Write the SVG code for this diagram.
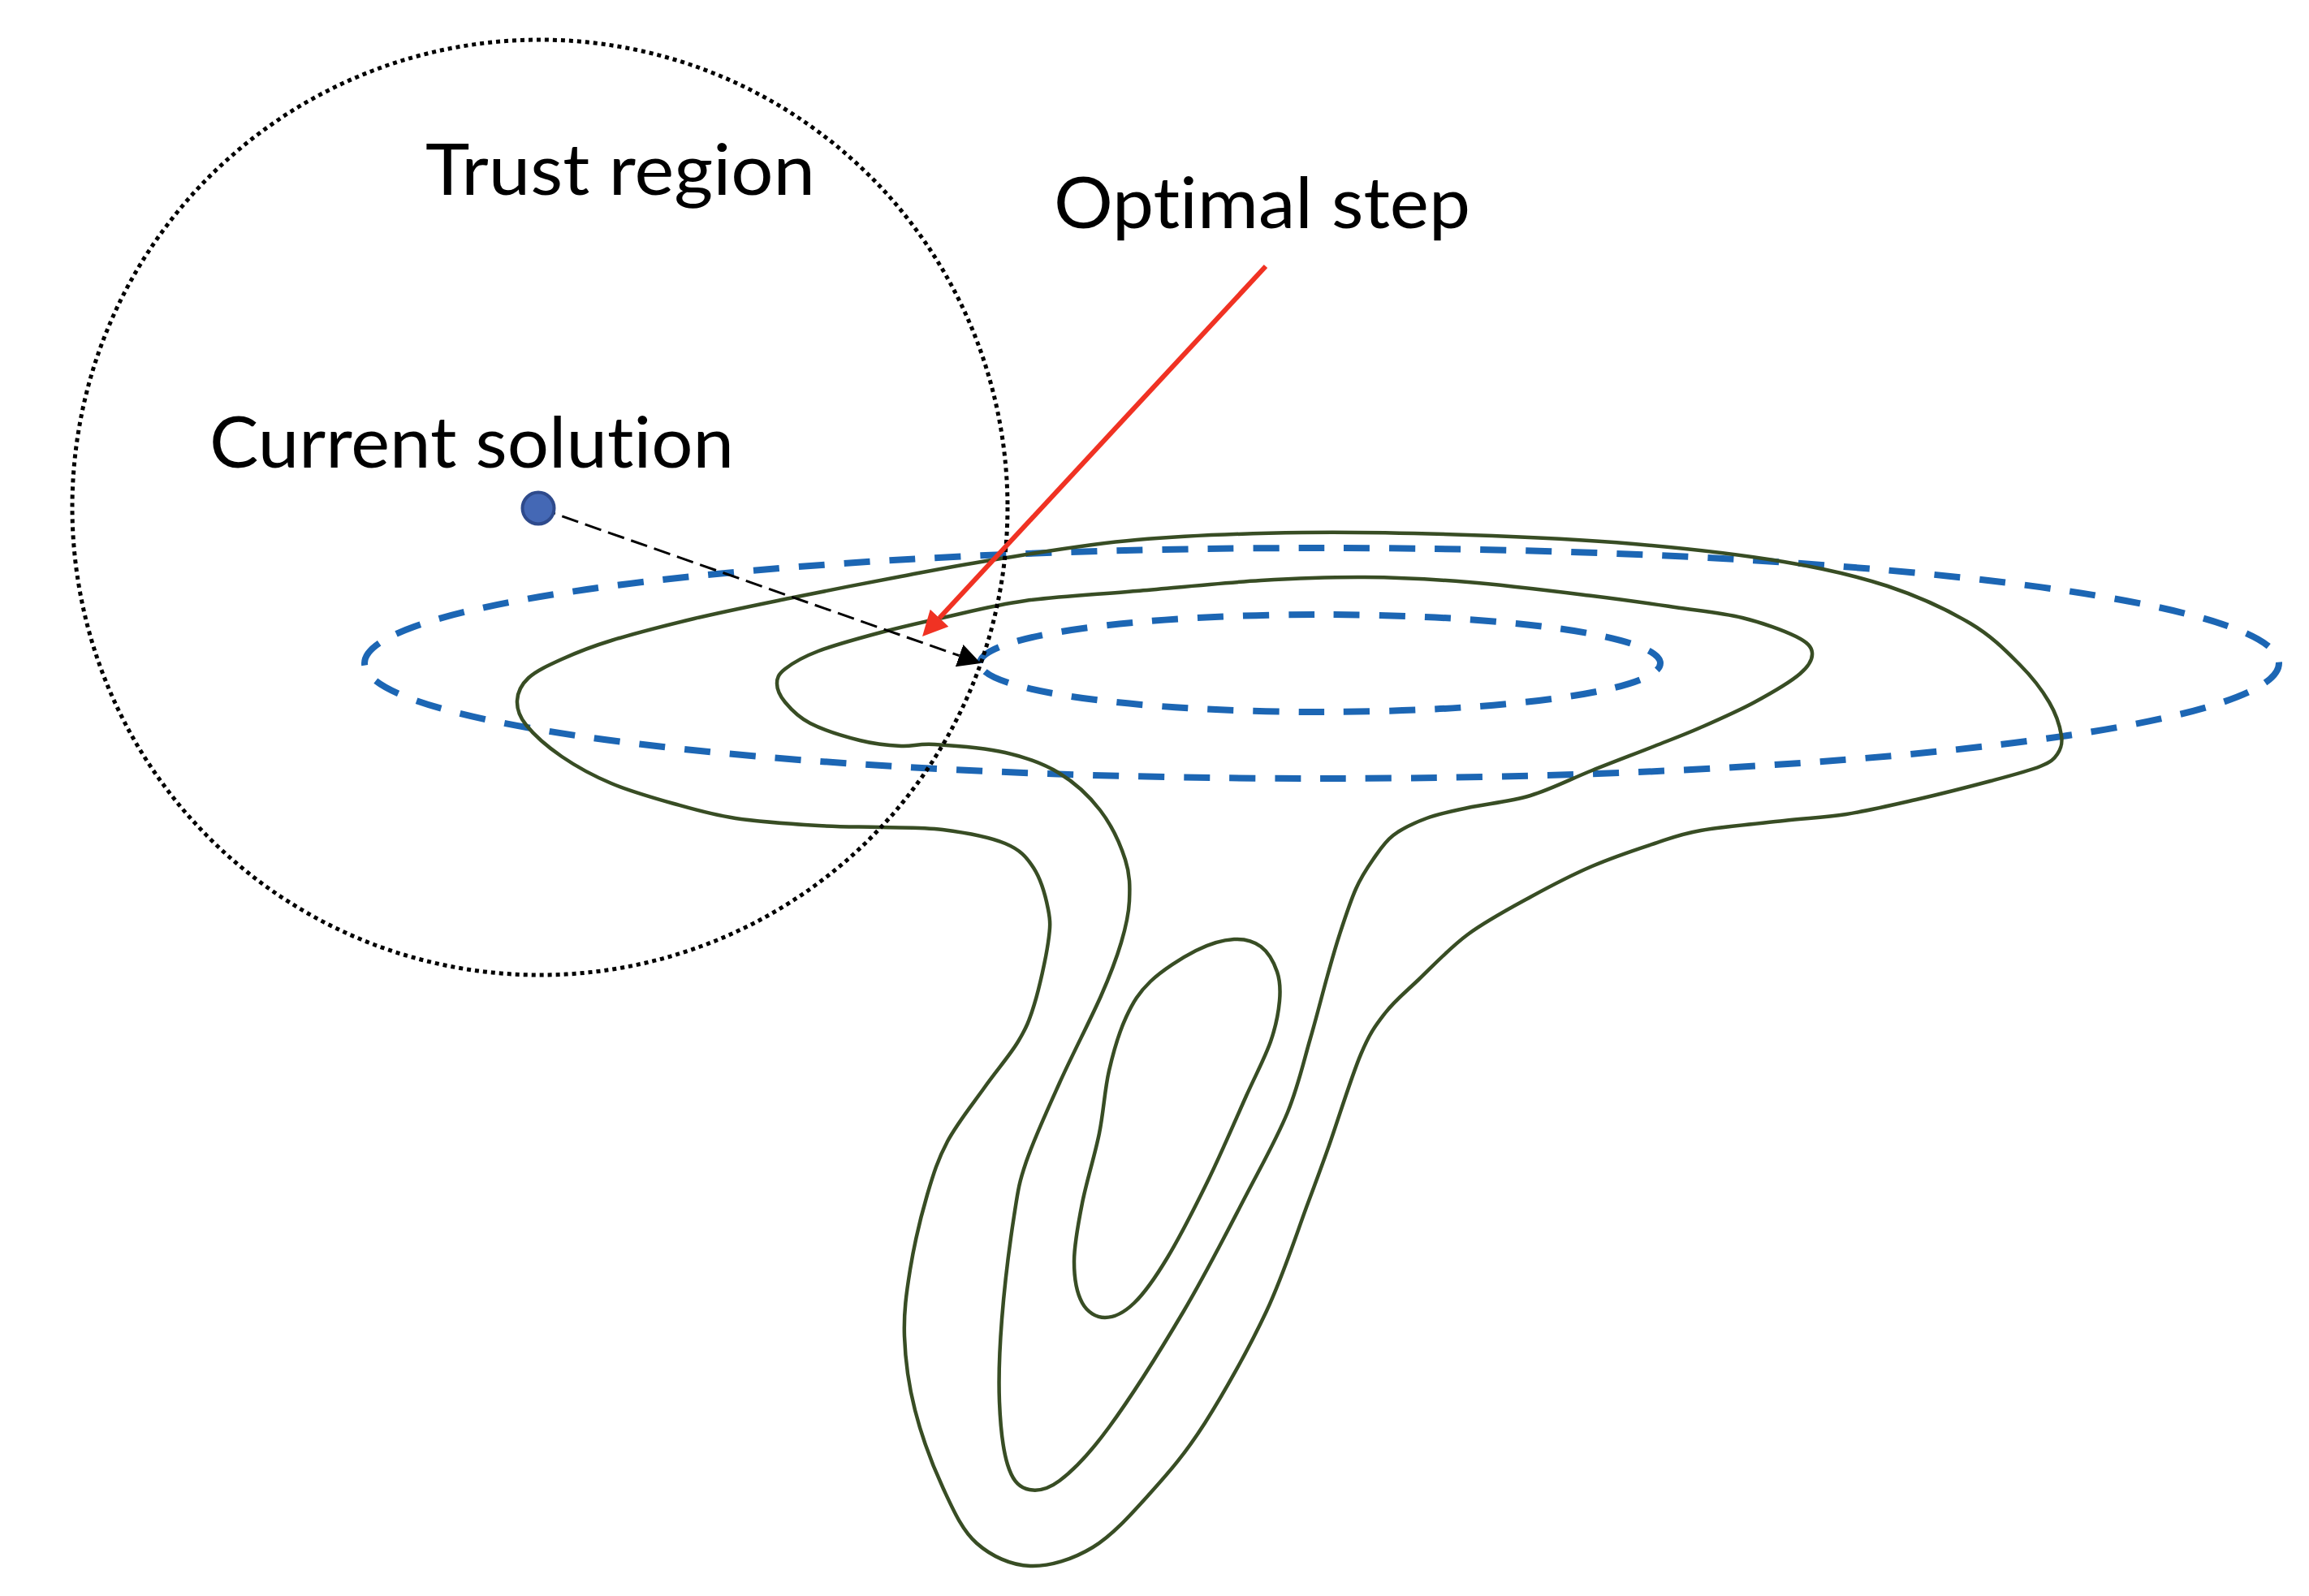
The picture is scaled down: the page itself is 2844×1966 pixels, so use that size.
<svg xmlns="http://www.w3.org/2000/svg" width="2844" height="1966" viewBox="0 0 2844 1966">
<style>
.contour{fill:none;stroke:#384D24;stroke-width:4.5;stroke-linejoin:round}
.level{fill:none;stroke:#1C66B4;stroke-width:8;stroke-dasharray:32 24}
.label{font-family:Lato,"Open Sans","Liberation Sans",sans-serif;font-size:88px;fill:#000;font-variant-ligatures:none;font-feature-settings:"liga" 0,"clig" 0,"dlig" 0}
</style>
<defs>
<marker id="headBlack" markerUnits="userSpaceOnUse" viewBox="0 0 28 29" markerWidth="28" markerHeight="29" refX="0" refY="14.5" orient="auto">
<path d="M0,0 L28,14.5 L0,29 Z" fill="#000"/>
</marker>
<marker id="headRed" markerUnits="userSpaceOnUse" viewBox="0 0 31 31" markerWidth="31" markerHeight="31" refX="0" refY="15.5" orient="auto">
<path d="M0,0 L31,15.5 L0,31 Z" fill="#F03223"/>
</marker>
</defs>
<rect width="2844" height="1966" fill="#fff"/>
<g id="level-sets">
<path class="level" d="M449,817 A1179,142 0 1,1 2807,817 A1179,142 0 1,1 449,817 Z"/>
<path class="level" d="M1207,817 A419,60 0 1,1 2045,817 A419,60 0 1,1 1207,817 Z"/>
</g>
<g id="contours">
<path class="contour" d="M637,863 C637.5,853.3 641.8,843.5 651,835 S675,819.7 692,812 S725.8,797.3 753,789 S818.5,770.7 855,762 S929.5,745.7 972,737 S1066.5,718.2 1110,710 S1184.7,695.5 1233,688 S1338.2,670.3 1400,665 S1536,657 1604,656 S1740,656.7 1808,659 S1947.2,664.5 2012,670 S2144.8,683.3 2197,692 S2286.7,709.3 2325,722 S2399.8,751.8 2427,768 S2471.8,802.8 2488,819 S2515.5,850.5 2524,865 S2537.3,895.3 2539,906 S2538.3,922.7 2534,929 S2526.7,938.5 2513,944 S2477.5,955.2 2452,962 S2389.7,978.2 2360,985 S2301.2,998.7 2274,1003 S2226.8,1007.7 2197,1011 S2121.5,1018.3 2095,1023 S2060.3,1031.7 2038,1039 S1986.5,1056 1961,1067 S1910.5,1091 1885,1105 S1831,1134 1808,1151 S1764,1190.8 1747,1207 S1717.8,1232.7 1706,1248 S1687.5,1271.8 1676,1299 S1647.8,1380.5 1637,1411 S1623.8,1448 1611,1482 S1581.2,1569.8 1560,1615 S1507.8,1715.7 1484,1753 S1440,1813.5 1417,1839 S1370.7,1891 1346,1906 S1292.8,1929.8 1269,1929 S1220.8,1916.8 1203,1901 S1174.7,1861.3 1162,1834 S1135,1768.3 1127,1737 S1115,1674.8 1114,1646 S1116.3,1593 1121,1564 S1134.3,1498.3 1142,1472 S1155.2,1428.2 1167,1406 S1198.5,1359.5 1213,1339 S1243.8,1300 1254,1283 S1267.8,1257.3 1274,1237 S1288.2,1180.5 1291,1161 S1294,1135.3 1291,1120 S1281.8,1082.5 1273,1069 S1256.7,1046.8 1238,1039 S1186.5,1025.3 1161,1022 S1110.5,1019.8 1085,1019 S1037.8,1018.8 1008,1017 S935.7,1012.5 906,1008 S855.5,997.2 830,990 S776,974.7 753,965 S709.5,944 692,932 S657.2,904.5 648,893 S636.5,872.7 637,863 Z"/>
<path class="contour" d="M957,842 C957,835.2 958.5,830.7 967,824 S988.3,809.5 1008,802 S1059.5,785.8 1085,779 S1131.3,767.5 1161,761 S1223.2,745.5 1263,740 S1351.7,732.2 1400,728 S1506.2,717.8 1553,715 S1638.5,710.7 1681,711 S1761.3,713.2 1808,717 S1918.5,728.8 1961,734 S2032.2,743.5 2063,748 S2121.2,755 2146,761 S2197.7,776.8 2212,784 S2231.2,796.3 2232,804 S2228.8,819.8 2217,830 S2181.3,854 2161,865 S2115.5,887 2095,896 S2060.3,910.2 2038,919 S1986.5,938.8 1961,949 S1910.5,972.3 1885,980 S1829.3,990.3 1808,995 S1772.3,1002.3 1757,1008 S1727,1020.5 1716,1029 S1698.7,1048 1691,1059 S1676.8,1079.7 1670,1095 S1655.8,1133.2 1650,1151 S1641,1180.7 1635,1202 S1622.2,1251 1614,1279 S1599.2,1337.8 1586,1370 S1556.3,1431.2 1535,1472 S1486.2,1567.3 1458,1615 S1391.5,1723.2 1366,1758 S1322,1811.3 1305,1824 S1274.7,1837.3 1264,1834 S1246.5,1821.8 1241,1804 S1232.2,1756.8 1231,1727 S1231,1663.2 1234,1625 S1244,1530.3 1249,1498 S1254.7,1458.3 1264,1431 S1289.7,1368 1305,1334 S1343.3,1255.8 1356,1227 S1375.2,1180.5 1381,1161 S1390.2,1127 1391,1110 S1392,1077.7 1386,1059 S1368.7,1015.8 1355,998 S1323.5,963.8 1304,952 S1263.5,932.8 1238,927 S1172.3,918.3 1151,917 S1125.3,919.8 1110,919 S1077.7,916.7 1059,912 S1013.3,898.8 998,891 S973.8,873.2 967,865 S957,848.8 957,842 Z"/>
<path class="contour" d="M1520,1157 C1533.3,1156.2 1544.2,1159.3 1553,1166 S1569.2,1185.8 1573,1197 S1577.3,1218.7 1576,1233 S1571.8,1263.5 1565,1283 S1547.7,1321.8 1535,1350 S1505.2,1418.8 1489,1452 S1453.3,1523.5 1438,1549 S1409.8,1592.7 1397,1605 S1371.7,1623 1361,1623 S1339.3,1616.5 1333,1605 S1323,1574.5 1323,1554 S1327.8,1508.3 1333,1482 S1348.5,1423.2 1354,1396 S1360.5,1342.8 1366,1319 S1378.5,1271.3 1387,1253 S1402.7,1222.7 1417,1209 S1455.8,1179.7 1473,1171 S1506.7,1157.8 1520,1157 Z"/>
</g>
<g id="trust-region">
<circle cx="665" cy="625" r="576" fill="none" stroke="#000" stroke-width="5" stroke-dasharray="5 5"/>
<text class="label" x="524" y="240" textLength="480" lengthAdjust="spacingAndGlyphs">Trust region</text>
</g>
<g id="connectors">
<line x1="664" y1="626" x2="1181.6" y2="807.7" stroke="#000" stroke-width="3" stroke-dasharray="21 9" marker-end="url(#headBlack)"/>
<line x1="1559" y1="328" x2="1157.1" y2="761.3" stroke="#F03223" stroke-width="6" marker-end="url(#headRed)"/>
</g>
<g id="current-solution">
<circle cx="663" cy="626" r="19.5" fill="#4468B5" stroke="#2E4A8C" stroke-width="4"/>
<text class="label" x="258" y="576" textLength="646" lengthAdjust="spacingAndGlyphs">Current solution</text>
</g>
<g id="optimal-step">
<text class="label" x="1298" y="281" textLength="513" lengthAdjust="spacingAndGlyphs">Optimal step</text>
</g>
</svg>
